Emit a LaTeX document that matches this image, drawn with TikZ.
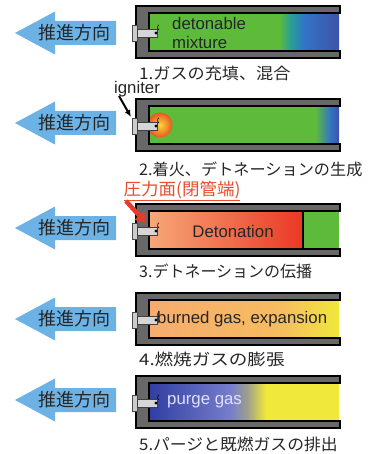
\documentclass[tikz,border=0pt]{standalone}
\usepackage{fontspec}
\usepackage{graphicx}
\setmainfont{Liberation Sans}
\newfontfamily\jpfont{Noto Sans CJK JP}
\usetikzlibrary{arrows.meta,calc}

\definecolor{thrustblue}{RGB}{108,178,228}
\definecolor{wallgray}{RGB}{104,104,104}
\definecolor{mixgreen}{RGB}{94,186,58}
\definecolor{mixteal}{RGB}{40,160,150}
\definecolor{mixblue}{RGB}{50,118,198}
\definecolor{mixdeep}{RGB}{62,82,168}
\definecolor{detlight}{RGB}{246,168,118}
\definecolor{detred}{RGB}{234,56,38}
\definecolor{burnorange}{RGB}{246,172,110}
\definecolor{burnmid}{RGB}{246,188,96}
\definecolor{burnyellow}{RGB}{240,232,58}
\definecolor{purgedark}{RGB}{48,62,162}
\definecolor{purgelight}{RGB}{118,126,204}
\definecolor{purgegray}{RGB}{160,160,140}
\definecolor{labelred}{RGB}{232,78,46}
\definecolor{arrowred}{RGB}{232,58,40}
\definecolor{flamecore}{RGB}{250,214,60}
\definecolor{flameedge}{RGB}{232,88,30}

\tikzset{
  wall/.style={fill=wallgray, draw=black, line width=1.3pt, line join=miter},
  innerline/.style={draw=black, line width=1.3pt},
  thrust/.style={fill=thrustblue, draw=none},
  thrusttext/.style={font=\jpfont\fontsize{18}{20}\selectfont, text=black!85, inner sep=0pt},
  caption/.style={font=\jpfont\fontsize{16}{18}\selectfont, anchor=west, inner sep=0pt, text=black!85},
  gastext/.style={font=\fontsize{16.8}{19}\selectfont, inner sep=0pt},
  flange/.style={fill=black!20, draw=black!70, line width=0.6pt},
  rod/.style={fill=black!16, draw=black!75, line width=0.6pt},
  pointer/.style={draw=black, line width=2pt, -{Latex[length=7pt,width=6pt]}},
  wallshaft/.style={draw=arrowred, line width=4.5pt},
  wallhead/.style={fill=arrowred, draw=none},
}

% a caption widened by the factor #1
\newcommand\widecap[2]{\scalebox{#1}[1]{#2}}

% tube walls and igniter, in the local frame of one panel (top edge at y=0)
\newcommand\drawtubeframe{%
  \draw[wall] (340,0) -- (136,0) -- (136,52) -- (340,52) -- (340,45)
    -- (149,45) -- (149,7) -- (340,7) -- cycle;
  \draw[flange] (132,19) rectangle (137,35);
  \draw[rod] (137,23) rectangle (157,31);
  \fill[black] (156,27) circle (1.7);
  \draw[black, line width=0.6pt] (159,24) arc (-60:60:-3);
}

% the blue thrust-direction arrow, centred at height #1
\newcommand\thrustarrow[2]{%
  \fill[thrust] (15,#1) -- (55,#1-21.5) -- (55,#1-12) -- (116,#1-12)
    -- (116,#1+12) -- (55,#1+12) -- (55,#1+21.5) -- cycle;
  \node[thrusttext] (#2) at (74,#1) {推進方向};
}

\begin{document}
\begin{tikzpicture}[x=1pt, y=-1pt]
\useasboundingbox (0,0) rectangle (377,454);
\fill[white] (0,0) rectangle (377,454);

% ---------- 1. filling and mixing ----------
\thrustarrow{33}{dir1}
\begin{scope}[shift={(0,6)}]
  \fill[mixgreen] (149,7) rectangle (279,45);
  \shade[left color=mixgreen, right color=mixteal] (278.5,7) rectangle (291,45);
  \shade[left color=mixteal, right color=mixblue] (290.5,7) rectangle (304,45);
  \shade[left color=mixblue, right color=mixdeep] (303.5,7) rectangle (339,45);
  \drawtubeframe
  \node[gastext, anchor=west, align=left, text=black!85] (mix) at (172,26.5)
    {detonable\\mixture};
\end{scope}
\node[caption] (cap1) at (139,73) {\widecap{1.07}{1.ガスの充填、混合}};

% ---------- 2. ignition ----------
\thrustarrow{123}{dir2}
\begin{scope}[shift={(0,99)}]
  \fill[mixgreen] (149,7) rectangle (316,45);
  \shade[left color=mixgreen, right color=mixblue] (315.5,7) rectangle (330,45);
  \shade[left color=mixblue, right color=mixdeep] (329.5,7) rectangle (339,45);
  \begin{scope}
    \clip (149,7) rectangle (339,45);
    \shade[inner color=flamecore, outer color=flameedge] (160,26) circle (12.5);
  \end{scope}
  \drawtubeframe
  \coordinate (igtip) at (131,18);
\end{scope}
\node[gastext, text=black!85] (ign) at (137,89) {igniter};
\draw[pointer] (119,96) -- (igtip);
\node[caption] (cap2) at (139,169) {\widecap{1.01}{2.着火、デトネーションの生成}};

% ---------- 3. detonation propagation ----------
\node[font=\jpfont\fontsize{17}{19}\selectfont, text=labelred, inner sep=0pt]
  (wall) at (182,191) {\widecap{1.03}{\underline{圧力面(閉管端)}}};
\thrustarrow{228}{dir3}
\begin{scope}[shift={(0,204)}]
  \shade[left color=detlight, right color=detred] (149,7) rectangle (303,45);
  \fill[mixgreen] (303,7) rectangle (339,45);
  \draw[innerline] (303,7) -- (303,45);
  \drawtubeframe
  \node[gastext, text=black!85] (det) at (233,27) {Detonation};
  \coordinate (walltip) at (146,19);
\end{scope}
% red pointer to the closed end: thick shaft and a wide triangular head
\coordinate (wallfoot) at (126,201);
\coordinate (wallneck) at ($(wallfoot)!0.66!(walltip)$);
\draw[wallshaft] (wallfoot) -- (wallneck);
\fill[wallhead] (walltip)
  -- ($(wallneck)!6.5pt!90:(walltip)$)
  -- ($(wallneck)!6.5pt!-90:(walltip)$) -- cycle;
\node[caption] (cap3) at (139,271) {3.デトネーションの伝播};

% ---------- 4. burned gas expansion ----------
\thrustarrow{319}{dir4}
\begin{scope}[shift={(0,293)}]
  \shade[left color=burnorange, right color=burnmid] (149,7) rectangle (281,45);
  \shade[left color=burnmid, right color=burnyellow] (280.5,7) rectangle (339,45);
  \drawtubeframe
  \node[gastext, anchor=west, text=black!85] (burn) at (157,26.5) {burned gas, expansion};
\end{scope}
\node[caption] (cap4) at (139,359) {\widecap{1.16}{4.燃焼ガスの膨張}};

% ---------- 5. purge and exhaust ----------
\thrustarrow{400}{dir5}
\begin{scope}[shift={(0,376)}]
  \fill[burnyellow] (149,7) rectangle (339,45);
  \shade[left color=purgedark, right color=purgelight] (149,7) rectangle (231,45);
  \shade[left color=purgelight, right color=purgegray] (230.5,7) rectangle (248,45);
  \shade[left color=purgegray, right color=burnyellow] (247.5,7) rectangle (266,45);
  \drawtubeframe
  \node[gastext, anchor=west, text=white!88!blue] (purge) at (167,26) {purge gas};
\end{scope}
\node[caption] (cap5) at (139,444) {\widecap{1.05}{5.パージと既燃ガスの排出}};
\end{tikzpicture}
\end{document}
